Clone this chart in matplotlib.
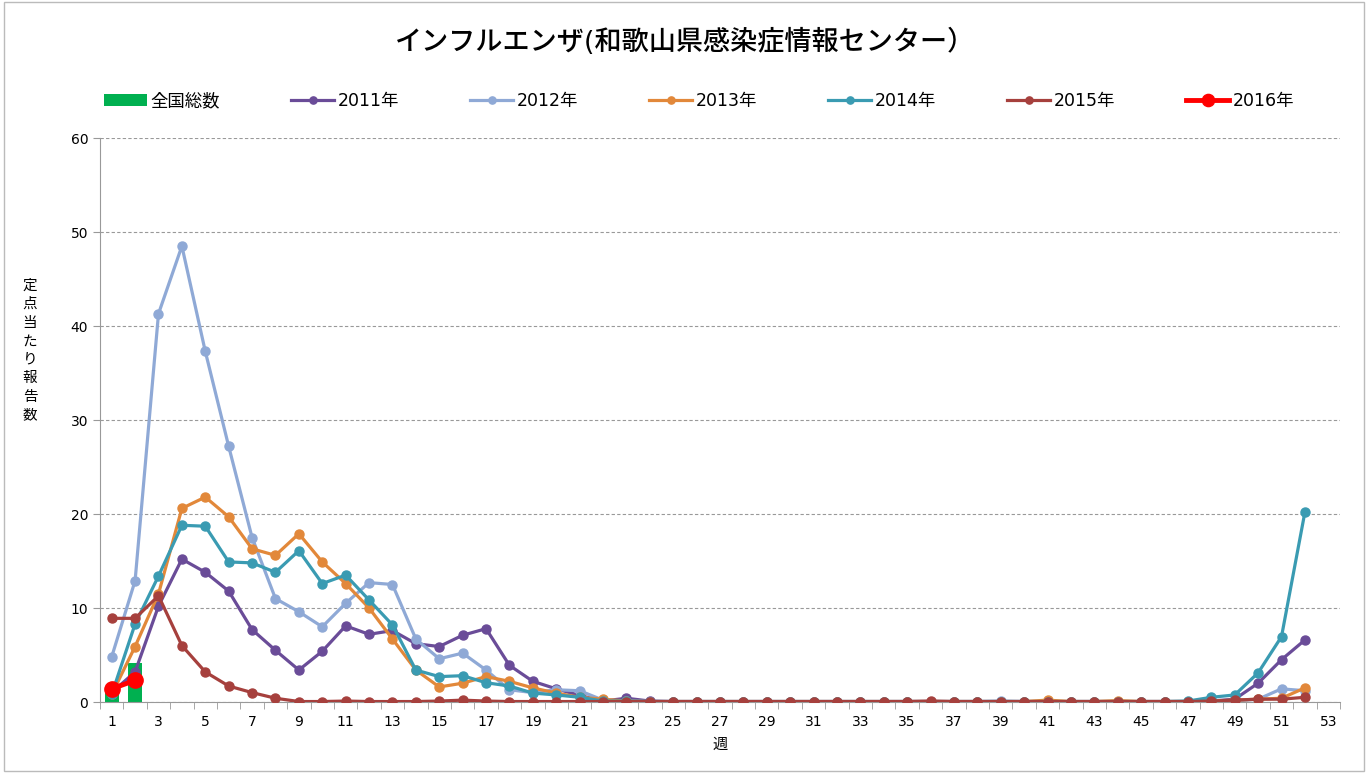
import matplotlib.pyplot as plt
from matplotlib.patches import Rectangle

plt.rcParams['font.family'] = ['DejaVu Sans', 'Noto Sans CJK JP']

# 週ごとの定点当たり報告数 (1-52週)
weeks = list(range(1, 53))

y2011 = [1.0, 3.2, 10.2, 15.2, 13.8, 11.8, 7.7, 5.5, 3.4, 5.4, 8.1, 7.2, 7.6,
         6.2, 5.9, 7.1, 7.8, 3.9, 2.2, 1.4, 0.7, 0.1, 0.4, 0.1, 0.05,
         0.05, 0.05, 0.05, 0.05, 0.05, 0.05, 0.05, 0.05, 0.05, 0.05, 0.05,
         0.05, 0.05, 0.05, 0.05, 0.05, 0.05, 0.05, 0.05, 0.05, 0.05, 0.05,
         0.1, 0.3, 2.0, 4.5, 6.6]
y2012 = [4.8, 12.9, 41.3, 48.5, 37.3, 27.2, 17.5, 11.0, 9.6, 8.0, 10.5, 12.7, 12.5,
         6.7, 4.6, 5.2, 3.4, 1.3, 1.0, 1.3, 1.2, 0.2, 0.1, 0.05, 0.05,
         0.05, 0.05, 0.05, 0.05, 0.05, 0.05, 0.05, 0.05, 0.05, 0.05, 0.05,
         0.05, 0.05, 0.1, 0.05, 0.05, 0.05, 0.05, 0.05, 0.05, 0.05, 0.05,
         0.05, 0.1, 0.3, 1.4, 1.2]
y2013 = [0.8, 5.9, 11.5, 20.6, 21.8, 19.7, 16.3, 15.6, 17.9, 14.9, 12.6, 10.0, 6.7,
         3.4, 1.6, 2.0, 2.7, 2.2, 1.5, 0.95, 0.5, 0.3, 0.1, 0.05, 0.05,
         0.05, 0.05, 0.05, 0.05, 0.05, 0.05, 0.05, 0.05, 0.05, 0.05, 0.05,
         0.05, 0.05, 0.05, 0.05, 0.2, 0.05, 0.05, 0.15, 0.05, 0.05, 0.05,
         0.1, 0.2, 0.3, 0.4, 1.5]
y2014 = [0.8, 8.3, 13.4, 18.8, 18.7, 14.9, 14.8, 13.8, 16.1, 12.6, 13.5, 10.85, 8.2,
         3.4, 2.7, 2.8, 2.05, 1.7, 0.95, 0.75, 0.5, 0.1, 0.1, 0.05, 0.05,
         0.05, 0.05, 0.05, 0.05, 0.05, 0.05, 0.05, 0.05, 0.05, 0.05, 0.05,
         0.05, 0.05, 0.05, 0.05, 0.05, 0.05, 0.05, 0.05, 0.05, 0.05, 0.1,
         0.5, 0.75, 3.1, 6.95, 20.2]
y2015 = [8.9, 8.9, 11.3, 6.0, 3.2, 1.7, 1.0, 0.4, 0.05, 0.05, 0.1, 0.05, 0.05,
         0.05, 0.1, 0.2, 0.1, 0.05, 0.05, 0.05, 0.05, 0.05, 0.05, 0.05, 0.05,
         0.05, 0.05, 0.05, 0.05, 0.05, 0.05, 0.05, 0.05, 0.05, 0.05, 0.1,
         0.05, 0.05, 0.05, 0.05, 0.05, 0.05, 0.05, 0.05, 0.05, 0.05, 0.05,
         0.1, 0.2, 0.3, 0.3, 0.5]
weeks2016 = [1, 2]
y2016 = [1.4, 2.3]
national = [1.6, 4.1]

series = [
    ("2011年", y2011, "#6A4C98"),
    ("2012年", y2012, "#8FA9D6"),
    ("2013年", y2013, "#E2883A"),
    ("2014年", y2014, "#3A9BB2"),
    ("2015年", y2015, "#A6403D"),
]

fig = plt.figure(figsize=(13.68, 7.73), dpi=100)
ax = fig.add_axes([100 / 1368, 1 - 702 / 773, 1240 / 1368, 564 / 773])

ax.bar(weeks2016, national, width=0.6, color="#00B050", label="全国総数", zorder=2)
for name, vals, col in series:
    assert len(vals) == 52, name
    ax.plot(weeks, vals, color=col, lw=2.3, marker="o", ms=6.5, label=name, zorder=3)
ax.plot(weeks2016, y2016, color="#FF0000", lw=3.5, marker="o", ms=11, label="2016年", zorder=4)

ax.set_xlim(0.5, 53.5)
ax.set_ylim(0, 60)
ax.set_yticks(range(0, 61, 10))
ax.set_xticks(range(1, 54, 2))
ax.set_xticks([w + 0.5 for w in range(0, 54)], minor=True)
ax.tick_params(axis="x", which="major", length=0, labelsize=10, pad=9)
ax.tick_params(axis="x", which="minor", length=5, color="#999999")
ax.tick_params(axis="y", length=5, color="#999999", labelsize=10)
ax.yaxis.grid(True, ls=(0, (3, 2)), color="#999999", lw=0.8)
ax.set_axisbelow(True)
for s in ("top", "right"):
    ax.spines[s].set_visible(False)
for s in ("left", "bottom"):
    ax.spines[s].set_color("#999999")

ax.set_xlabel("週", fontsize=11, labelpad=6)
fig.text(30 / 1368, 1 - 350 / 773, "\n".join("定点当たり報告数"), fontsize=10.5,
         ha="center", va="center", linespacing=1.3)

fig.text(685 / 1368, 1 - 42 / 773, "インフルエンザ(和歌山県感染症情報センター）",
         fontsize=19.5, ha="center", va="center", fontweight="medium")

# 凡例: 全国総数 を先頭に
handles, labels = ax.get_legend_handles_labels()
handles = [handles[-1]] + handles[:-1]
labels = [labels[-1]] + labels[:-1]
fig.legend(handles, labels, ncol=7, loc="center left", mode="expand",
           bbox_to_anchor=(88 / 1368, 1 - 101 / 773, 1222 / 1368, 0.0),
           frameon=False, fontsize=12.5, handlelength=2.5, handletextpad=0.2,
           markerscale=0.8)

fig.add_artist(Rectangle((0.003, 0.003), 0.994, 0.994, transform=fig.transFigure,
                         fill=False, ec="#BBBBBB", lw=1))

fig.savefig("out.png")
